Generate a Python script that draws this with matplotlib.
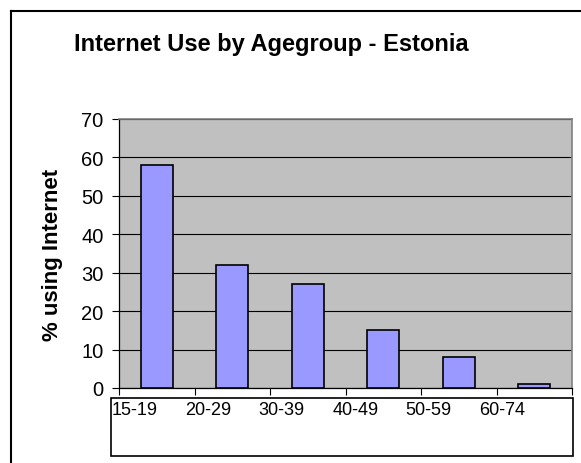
import matplotlib.pyplot as plt
from matplotlib.lines import Line2D
from matplotlib.patches import Rectangle

plt.rcParams['font.family'] = ['Liberation Sans', 'DejaVu Sans']

age_groups = ['15-19', '20-29', '30-39', '40-49', '50-59', '60-74']
pct_using = [58, 32, 27, 15, 8, 1]
y_ticks = [0, 10, 20, 30, 40, 50, 60, 70]

W, H = 581, 464
fig = plt.figure(figsize=(W / 100, H / 100), dpi=100)

# plot area in pixel terms
left, right, top, bottom = 119, 572, 120, 389
ax = fig.add_axes([left / W, 1 - bottom / H, (right - left) / W, (bottom - top) / H])
ax.set_facecolor('#C0C0C0')

x = range(len(age_groups))
ax.bar(x, pct_using, width=0.42, color='#9999FF', edgecolor='black', linewidth=1.2, zorder=3)

ax.set_xlim(-0.5, len(age_groups) - 0.5)
ax.set_ylim(0, 70)
ax.set_yticks(y_ticks)
ax.set_yticklabels([str(v) for v in y_ticks], fontsize=14.5)
ax.tick_params(axis='y', length=5, width=0.8, pad=6, direction='out')
ax.yaxis.grid(True, color='black', linewidth=0.8, zorder=1)
ax.set_axisbelow(True)

# category boundary ticks, labels are drawn in a box below
ax.set_xticks([i - 0.5 for i in range(len(age_groups) + 1)])
ax.set_xticklabels([])
ax.tick_params(axis='x', length=5, width=0.8, direction='out')

for side in ['top', 'right']:
    ax.spines[side].set_color('#808080')
    ax.spines[side].set_linewidth(1.2)
for side in ['left', 'bottom']:
    ax.spines[side].set_color('black')
    ax.spines[side].set_linewidth(0.9)

ax.set_ylabel('% using Internet', fontsize=16, fontweight='bold')
ax.yaxis.set_label_coords((63 - left) / (right - left), 0.5)

# white box holding the age group labels
fig.add_artist(Rectangle((111 / W, 1 - 457 / H), (573 - 111) / W, (457 - 399) / H,
                         transform=fig.transFigure, facecolor='white',
                         edgecolor='black', linewidth=1.2))
for i, name in enumerate(age_groups):
    xpos = (112 + 73.4 * i) / W
    fig.text(xpos, 1 - 402 / H, name, fontsize=13, ha='left', va='top')

fig.text(271.5 / W, 1 - 45 / H, 'Internet Use by Agegroup - Estonia',
         fontsize=17, fontweight='bold', ha='center', va='center')

# outer frame, continues past the right and bottom edges
fig.add_artist(Line2D([11 / W, 11 / W], [0, 1 - 12 / H], transform=fig.transFigure,
                      color='black', linewidth=1.5))
fig.add_artist(Line2D([11 / W, 1], [1 - 12 / H, 1 - 12 / H], transform=fig.transFigure,
                      color='black', linewidth=1.5))

fig.savefig('out.png', dpi=100)
